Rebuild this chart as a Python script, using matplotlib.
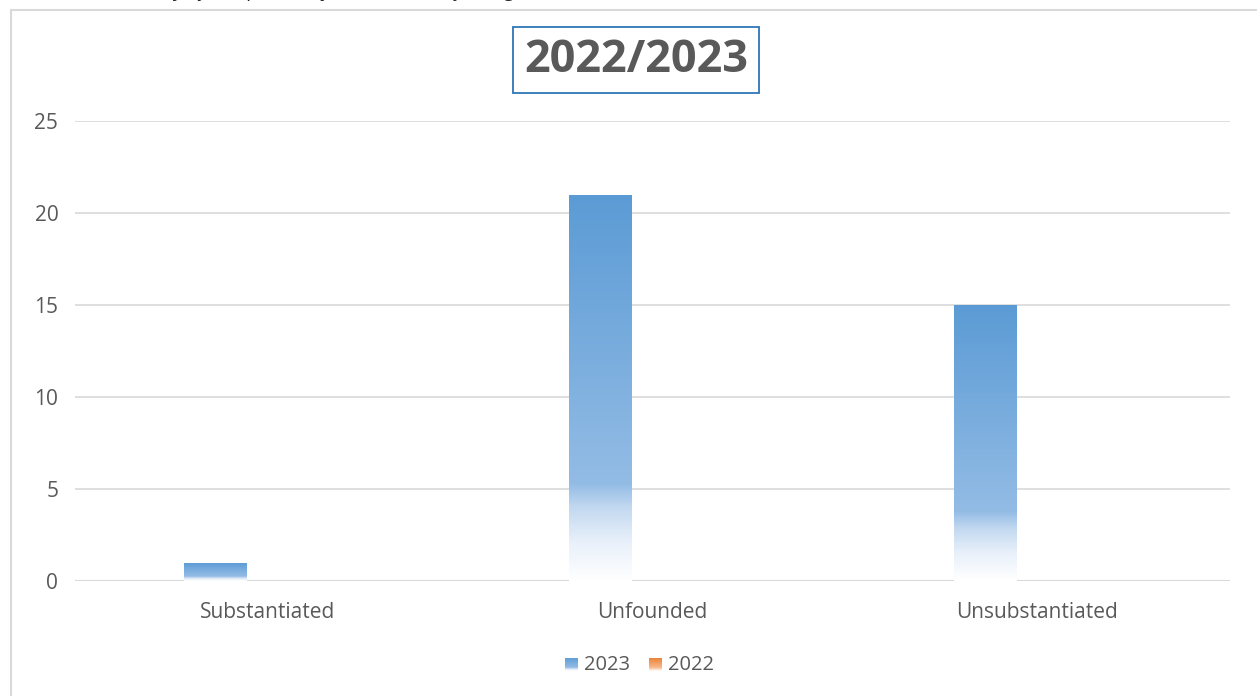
import numpy as np
import matplotlib.pyplot as plt
from matplotlib.colors import LinearSegmentedColormap
from matplotlib.patches import Rectangle

plt.rcParams['font.family'] = ['Open Sans', 'DejaVu Sans']

categories = ['Substantiated', 'Unfounded', 'Unsubstantiated']
series_names = ['2023', '2022']
values_2023 = [1, 21, 15]
values_2022 = [0, 0, 0]
yticks = [0, 5, 10, 15, 20, 25]
title = '2022/2023'

blue_cm = LinearSegmentedColormap.from_list('b', [(0, '#ffffff'), (0.1, '#e8f0fa'), (0.19, '#c2d8f0'),
                                                  (0.25, '#93bce5'), (1, '#5b9bd5')])
orange_cm = LinearSegmentedColormap.from_list('o', [(0, '#ffffff'), (0.25, '#f6b88a'), (1, '#ed7d31')])

W, H = 1257, 696
fig = plt.figure(figsize=(W / 100, H / 100), dpi=100)
ax = fig.add_axes([75 / W, 1 - 581 / H, 1155 / W, 460 / H])

# outer frame
fig.patches.append(Rectangle((11 / W, -0.1), 1.2, 1 - 10 / H + 0.1, transform=fig.transFigure,
                             fill=False, edgecolor='#d9d9d9', linewidth=1.5))
# caption above the chart, mostly cut off by the page edge
fig.text(0.08, 1 + 3 / H, 'Summary of complaints by outcome and finding', style='italic',
         fontsize=14, color='#222222', va='baseline', ha='left')

x = np.arange(len(categories))
bw = 0.163
off = 0.135

def grad_bars(xs, vals, cmap):
    bars = ax.bar(xs, vals, width=bw, color='none', edgecolor='none', zorder=3)
    grad = np.linspace(0, 1, 256).reshape(-1, 1)
    for b in bars:
        h = b.get_height()
        if h <= 0:
            continue
        im = ax.imshow(grad, cmap=cmap, origin='lower', aspect='auto', zorder=3,
                       extent=[b.get_x(), b.get_x() + b.get_width(), 0, h])
        im.set_clip_path(b)
    return bars

grad_bars(x - off, values_2023, blue_cm)
grad_bars(x + off, values_2022, orange_cm)
ax.set_xlim(-0.5, len(categories) - 0.5)
ax.set_ylim(0, 25)

ax.set_yticks(yticks)
ax.yaxis.grid(True, color='#d9d9d9', linewidth=1.2)
ax.set_axisbelow(True)
ax.axhline(0, color='#d9d9d9', linewidth=1.5, zorder=2)
for s in ax.spines.values():
    s.set_visible(False)
ax.tick_params(length=0, labelsize=15, colors='#595959')
ax.tick_params(axis='y', pad=12)
ax.tick_params(axis='x', pad=15)
ax.set_xticks(x)
ax.set_xticklabels(categories)

fig.text(636 / W, 1 - 60 / H, title, ha='center', va='center', fontsize=32.5, fontweight='bold',
         color='#595959',
         bbox=dict(boxstyle='square,pad=0.24', facecolor='white', edgecolor='#2e75b6', linewidth=1.3))

# legend
sq = np.linspace(0, 1, 64).reshape(-1, 1)
for i, (name, cm) in enumerate(zip(series_names, [blue_cm, orange_cm])):
    x0 = 565 + i * 84
    lax = fig.add_axes([x0 / W, 1 - 671 / H, 13 / W, 13 / H])
    lax.imshow(sq, cmap=cm, origin='lower', aspect='auto')
    lax.axis('off')
    fig.text((x0 + 19) / W, 1 - 665 / H, name, ha='left', va='center', fontsize=14.5, color='#595959')

fig.savefig('out.png', dpi=100)
